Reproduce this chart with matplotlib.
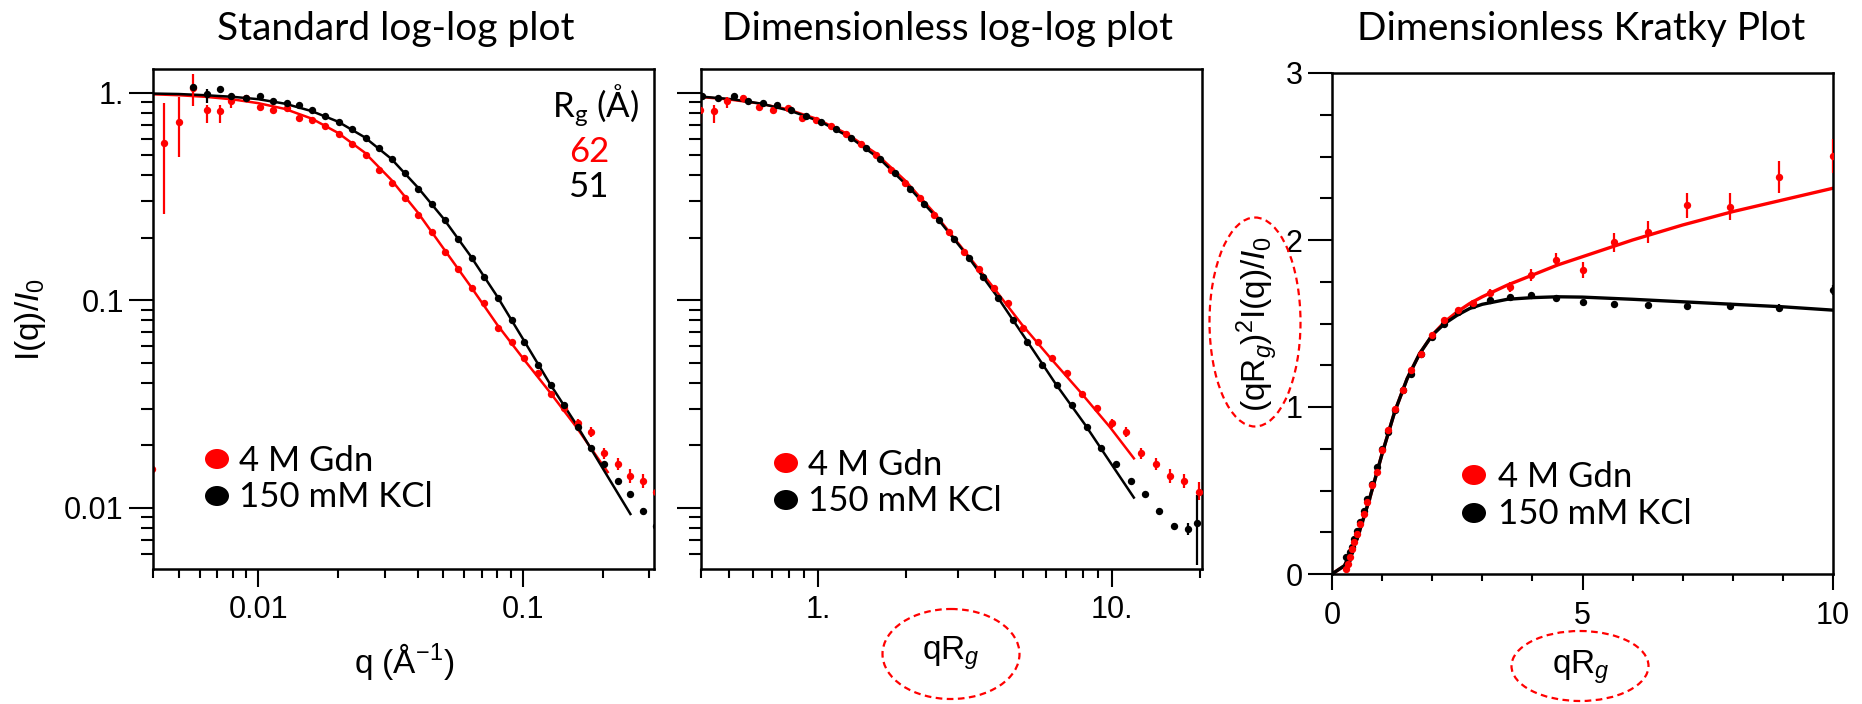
import matplotlib
matplotlib.use('Agg')
import matplotlib.pyplot as plt
from matplotlib.patches import Ellipse
from matplotlib.ticker import FixedLocator, FixedFormatter, NullFormatter, LogLocator
import numpy as np

plt.rcParams['font.family'] = ['Liberation Sans', 'DejaVu Sans']
plt.rcParams['mathtext.fontset'] = 'custom'
plt.rcParams['mathtext.rm'] = 'Liberation Sans'
plt.rcParams['mathtext.it'] = 'Liberation Sans:italic'

W, H = 1862, 704
RED = '#ff0000'
BLACK = '#000000'
TITLE_FONT = ['Lato', 'DejaVu Sans']

rg_gdn = 62
rg_kcl = 51

# 4 M Gdn: q (1/A), I(q)/I0, error bar down / up
q_gdn = [0.00442, 0.00503, 0.00565, 0.00638, 0.00715, 0.00788, 0.00896, 0.01015,
         0.01137, 0.01279, 0.01428, 0.01592, 0.0179, 0.02013, 0.02263, 0.02545,
         0.0285, 0.03193, 0.03591, 0.04022, 0.0452, 0.05064, 0.05695, 0.06403,
         0.07145, 0.08061, 0.09066, 0.1012, 0.1137, 0.1274, 0.1433, 0.1612,
         0.1804, 0.2029, 0.228, 0.2545, 0.2851, 0.319]
i_gdn = [0.573, 0.722, 1.05, 0.825, 0.82, 0.912, 0.94, 0.854,
         0.825, 0.846, 0.755, 0.736, 0.693, 0.634, 0.568, 0.501,
         0.425, 0.366, 0.312, 0.256, 0.212, 0.170, 0.141, 0.115,
         0.0969, 0.0735, 0.063, 0.0527, 0.0447, 0.0354, 0.0304, 0.0255,
         0.0232, 0.0183, 0.0162, 0.0142, 0.0134, 0.0119]
dn_gdn = [0.314, 0.232, 0.187, 0.108, 0.103, 0.071, 0.03, 0.02,
          0.02, 0.02, 0.015, 0.015, 0.012, 0.012, 0.01, 0.01,
          0.008, 0.007, 0.006, 0.005, 0.004, 0.003, 0.003, 0.002,
          0.002, 0.0015, 0.0013, 0.0011, 0.001, 0.0008, 0.0008, 0.0012,
          0.0012, 0.0011, 0.001, 0.001, 0.001, 0.001]
up_gdn = [0.316, 0.228, 0.176, 0.048, 0.053, 0.038, 0.03, 0.02,
          0.02, 0.02, 0.015, 0.015, 0.012, 0.012, 0.01, 0.01,
          0.008, 0.007, 0.006, 0.005, 0.004, 0.003, 0.003, 0.002,
          0.002, 0.0015, 0.0013, 0.0011, 0.001, 0.0008, 0.0008, 0.0012,
          0.0012, 0.0012, 0.0011, 0.0011, 0.0012, 0.0014]

# 150 mM KCl
q_kcl = [0.00565, 0.00638, 0.00715, 0.00788, 0.00896, 0.01015,
         0.01137, 0.01279, 0.01428, 0.01592, 0.0179, 0.02013, 0.02263, 0.02545,
         0.0285, 0.03193, 0.03591, 0.04022, 0.0452, 0.05064, 0.05695, 0.06403,
         0.07145, 0.08061, 0.09066, 0.1012, 0.1137, 0.1274, 0.1433, 0.1612,
         0.1804, 0.2029, 0.228, 0.2545, 0.2851, 0.319, 0.357, 0.383]
i_kcl = [1.06, 0.982, 1.04, 0.959, 0.944, 0.968,
         0.912, 0.889, 0.868, 0.825, 0.773, 0.722, 0.666, 0.603,
         0.540, 0.477, 0.411, 0.345, 0.290, 0.243, 0.197, 0.159,
         0.129, 0.102, 0.0801, 0.0628, 0.0490, 0.0391, 0.0313, 0.0244,
         0.0195, 0.0162, 0.0135, 0.0116, 0.00968, 0.00819, 0.00792, 0.0084]
dn_kcl = [0.03, 0.09, 0.03, 0.02, 0.02, 0.01,
          0.01, 0.01, 0.01, 0.01, 0.01, 0.01, 0.008, 0.008,
          0.006, 0.005, 0.004, 0.004, 0.003, 0.003, 0.002, 0.002,
          0.0015, 0.001, 0.001, 0.0008, 0.0006, 0.0005, 0.0004, 0.0003,
          0.0003, 0.0003, 0.0003, 0.0003, 0.0003, 0.0003, 0.0005, 0.0031]
up_kcl = [0.03, 0.06, 0.03, 0.02, 0.02, 0.01,
          0.01, 0.01, 0.01, 0.01, 0.01, 0.01, 0.008, 0.008,
          0.006, 0.005, 0.004, 0.004, 0.003, 0.003, 0.002, 0.002,
          0.0015, 0.001, 0.001, 0.0008, 0.0006, 0.0005, 0.0004, 0.0003,
          0.0003, 0.0003, 0.0003, 0.0003, 0.0003, 0.0003, 0.0005, 0.0031]

# stray point sitting on the left border of the first panel
q_stray = [0.00398]
i_stray = [0.0154]

# fitted curves
qfit_gdn = [0.004, 0.005, 0.0063, 0.008, 0.010, 0.0126, 0.0159, 0.020, 0.0252,
            0.0318, 0.040, 0.050, 0.063, 0.080, 0.100, 0.126, 0.159, 0.192, 0.209]
ifit_gdn = [0.982, 0.972, 0.955, 0.928, 0.89, 0.835, 0.75, 0.64, 0.515,
            0.38, 0.265, 0.178, 0.118, 0.076, 0.0525, 0.0362, 0.0245, 0.0173, 0.01486]
qfit_kcl = [0.004, 0.005, 0.0063, 0.008, 0.010, 0.0126, 0.0159, 0.020, 0.0252,
            0.0318, 0.040, 0.050, 0.063, 0.080, 0.100, 0.126, 0.159, 0.20, 0.2333, 0.2545]
ifit_kcl = [0.99, 0.985, 0.972, 0.955, 0.93, 0.885, 0.815, 0.725, 0.61,
            0.48, 0.35, 0.248, 0.165, 0.104, 0.065, 0.0398, 0.0252, 0.0155, 0.0112, 0.00933]
qrg_fit_end = 11.9

# dimensionless Kratky plot (binned on its own qRg grid)
kr_x = [0.282, 0.316, 0.355, 0.398, 0.447, 0.501, 0.562, 0.631, 0.708, 0.794, 0.891,
        1.0, 1.122, 1.259, 1.413, 1.585, 1.778, 1.995, 2.239, 2.512, 2.818,
        3.162, 3.548, 3.981, 4.467, 5.012, 5.623, 6.310, 7.079, 7.943, 8.913, 10.0]
kr_gdn = [0.03, 0.06, 0.10, 0.15, 0.19, 0.24, 0.30, 0.36, 0.43, 0.53, 0.61,
          0.74, 0.86, 0.99, 1.10, 1.22, 1.32, 1.43, 1.52, 1.58, 1.62,
          1.685, 1.72, 1.79, 1.88, 1.82, 1.986, 2.047, 2.208, 2.20, 2.377, 2.503]
kr_gdn_err = [0.01, 0.01, 0.01, 0.01, 0.01, 0.01, 0.01, 0.01, 0.01, 0.01, 0.01,
              0.01, 0.01, 0.01, 0.01, 0.01, 0.01, 0.01, 0.01, 0.015, 0.02,
              0.02, 0.03, 0.036, 0.04, 0.047, 0.056, 0.067, 0.074, 0.08, 0.094, 0.1]
kr_kcl = [0.10, 0.09, 0.13, 0.16, 0.21, 0.26, 0.31, 0.38, 0.45, 0.54, 0.64,
          0.75, 0.85, 0.98, 1.10, 1.20, 1.32, 1.42, 1.50, 1.57, 1.61,
          1.64, 1.66, 1.67, 1.653, 1.63, 1.618, 1.61, 1.605, 1.605, 1.59, 1.699]
kr_kcl_err = [0.01] * 21 + [0.01, 0.01, 0.01, 0.01, 0.01, 0.012, 0.014, 0.016, 0.02, 0.024, 0.03]

krfit_x = [0, 0.25, 0.5, 0.75, 1.0, 1.25, 1.5, 1.75, 2.0, 2.25, 2.5, 2.75, 3.0,
           3.5, 4.0, 4.5, 5.0, 6.0, 7.0, 8.0, 9.0, 10.0]
krfit_gdn = [0, 0.05, 0.21, 0.45, 0.72, 0.97, 1.17, 1.32, 1.43, 1.51, 1.57, 1.62, 1.66,
             1.73, 1.79, 1.85, 1.90, 2.00, 2.09, 2.17, 2.24, 2.31]
krfit_kcl = [0, 0.05, 0.21, 0.45, 0.72, 0.97, 1.17, 1.32, 1.43, 1.50, 1.55, 1.59, 1.615,
             1.645, 1.655, 1.66, 1.658, 1.645, 1.63, 1.615, 1.60, 1.58]


def px_axes(l, t, r, b):
    return fig.add_axes([l / W, 1 - b / H, (r - l) / W, (b - t) / H])


def style_axes(ax, ymaj, yminor, xmaj, xminor):
    for s in ax.spines.values():
        s.set_linewidth(1.8)
    ax.tick_params(which='both', direction='out', width=1.5, top=False, right=False,
                   labelsize=22, colors='black')
    ax.tick_params(axis='y', which='major', length=ymaj, pad=4)
    ax.tick_params(axis='y', which='minor', length=yminor)
    ax.tick_params(axis='x', which='major', length=xmaj, pad=6)
    ax.tick_params(axis='x', which='minor', length=xminor)


fig = plt.figure(figsize=(W / 100, H / 100), dpi=100)

ms = 5.3
ekw = dict(fmt='o', ms=ms, mew=0, elinewidth=1.6, capsize=0, zorder=3)

# ---- panel 1: standard log-log
ax1 = px_axes(153, 69, 654, 569)
ax1.plot(qfit_gdn, ifit_gdn, color=RED, lw=1.8, zorder=2)
ax1.plot(qfit_kcl, ifit_kcl, color=BLACK, lw=1.8, zorder=2)
ax1.errorbar(q_gdn, i_gdn, yerr=[dn_gdn, up_gdn], color=RED, **ekw)
ax1.errorbar(q_kcl, i_kcl, yerr=[dn_kcl, up_kcl], color=BLACK, **ekw)
ax1.plot(q_stray, i_stray, 'o', color=RED, ms=ms, mew=0)
ax1.set_xscale('log')
ax1.set_yscale('log')
ax1.set_xlim(0.004, 0.3125)
ax1.set_ylim(0.00507, 1.30)
ax1.xaxis.set_major_locator(FixedLocator([0.01, 0.1]))
ax1.xaxis.set_major_formatter(FixedFormatter(['0.01', '0.1']))
ax1.yaxis.set_major_locator(FixedLocator([0.01, 0.1, 1]))
ax1.yaxis.set_major_formatter(FixedFormatter(['0.01', '0.1', '1.']))
for axis in (ax1.xaxis, ax1.yaxis):
    axis.set_minor_locator(LogLocator(base=10, subs=np.arange(2, 10), numticks=20))
    axis.set_minor_formatter(NullFormatter())
style_axes(ax1, 17, 9, 13, 6.5)

# ---- panel 2: dimensionless log-log
ax2 = px_axes(701, 69, 1202, 569)
for qf, fi, rg, c in ((qfit_gdn, ifit_gdn, rg_gdn, RED), (qfit_kcl, ifit_kcl, rg_kcl, BLACK)):
    xs = np.array(qf) * rg
    keep = xs <= qrg_fit_end + 0.05
    ax2.plot(xs[keep], np.array(fi)[keep], color=c, lw=1.8, zorder=2)
ax2.errorbar(np.array(q_gdn) * rg_gdn, i_gdn, yerr=[dn_gdn, up_gdn], color=RED, **ekw)
ax2.errorbar(np.array(q_kcl) * rg_kcl, i_kcl, yerr=[dn_kcl, up_kcl], color=BLACK, **ekw)
ax2.set_xscale('log')
ax2.set_yscale('log')
ax2.set_xlim(0.4, 20.3)
ax2.set_ylim(0.00507, 1.30)
ax2.xaxis.set_major_locator(FixedLocator([1, 10]))
ax2.xaxis.set_major_formatter(FixedFormatter(['1.', '10.']))
ax2.yaxis.set_major_locator(FixedLocator([0.01, 0.1, 1]))
ax2.yaxis.set_major_formatter(NullFormatter())
for axis in (ax2.xaxis, ax2.yaxis):
    axis.set_minor_locator(LogLocator(base=10, subs=np.arange(2, 10), numticks=20))
    axis.set_minor_formatter(NullFormatter())
style_axes(ax2, 17, 9, 13, 6.5)

# ---- panel 3: dimensionless Kratky
ax3 = px_axes(1332, 73, 1833, 574)
ax3.plot(krfit_x, krfit_gdn, color=RED, lw=2.4, zorder=2)
ax3.plot(krfit_x, krfit_kcl, color=BLACK, lw=2.4, zorder=2)
ax3.errorbar(kr_x, kr_kcl, yerr=kr_kcl_err, color=BLACK, **ekw)
ax3.errorbar(kr_x, kr_gdn, yerr=kr_gdn_err, color=RED, **ekw)
ax3.set_xlim(0, 10)
ax3.set_ylim(0, 3)
ax3.xaxis.set_major_locator(FixedLocator([0, 5, 10]))
ax3.xaxis.set_minor_locator(FixedLocator(np.arange(0, 11, 1)))
ax3.yaxis.set_major_locator(FixedLocator([0, 1, 2, 3]))
ax3.yaxis.set_minor_locator(FixedLocator(np.arange(0, 3.01, 0.25)))
ax3.xaxis.set_major_formatter(FixedFormatter(['0', '5', '10']))
ax3.yaxis.set_major_formatter(FixedFormatter(['0', '1', '2', '3']))
style_axes(ax3, 17, 9, 11.5, 5)
ax3.tick_params(axis='x', which='major', pad=8)

# ---- overlay for titles, labels, legends and the dashed ellipses
ov = fig.add_axes([0, 0, 1, 1], zorder=10)
ov.set_xlim(0, W)
ov.set_ylim(H, 0)
ov.axis('off')

for x, t in ((396, 'Standard log-log plot'), (947, 'Dimensionless log-log plot'),
             (1581, 'Dimensionless Kratky Plot')):
    ov.text(x, 40, t, ha='center', va='baseline', fontsize=28, family=TITLE_FONT)

ov.text(30, 320, r'I(q)/$\mathit{I}_{\mathregular{0}}$', rotation=90, ha='center', va='center',
        fontsize=24)
ov.text(404, 662, r'q (Å$^{\mathregular{-1}}$)', ha='center', va='center', fontsize=24)
ov.text(951, 653, r'qR$_{\mathit{g}}$', ha='center', va='center', fontsize=24)
ov.text(1581, 667, r'qR$_{\mathit{g}}$', ha='center', va='center', fontsize=24)
ov.text(1258, 324, r'(qR$_{\mathit{g}}$)$^{\mathregular{2}}$I(q)/$\mathit{I}_{\mathregular{0}}$',
        rotation=90, ha='center', va='center', fontsize=24)

ell_kw = dict(fill=False, edgecolor=RED, lw=1.6, ls=(0, (3, 2)))
ov.add_patch(Ellipse((951, 654), 137, 90, **ell_kw))
ov.add_patch(Ellipse((1580, 666), 137, 70, **ell_kw))
ov.add_patch(Ellipse((1255, 322), 91, 209, **ell_kw))

# R_g values
ov.text(639, 117, r'R$_{\mathregular{g}}$ (Å)', ha='right', va='baseline', fontsize=25,
        family=TITLE_FONT)
ov.text(609, 162, '62', ha='right', va='baseline', fontsize=25, color=RED, family=TITLE_FONT)
ov.text(609, 197, '51', ha='right', va='baseline', fontsize=25, color=BLACK, family=TITLE_FONT)

# legends
for mx, tx, y1, y2 in ((217, 239, 471, 507), (786, 808, 475, 511), (1474, 1498, 487, 524)):
    ov.add_patch(Ellipse((mx, y1 - 12), 24, 20, color=RED, lw=0))
    ov.add_patch(Ellipse((mx, y2 - 11), 24, 20, color=BLACK, lw=0))
    ov.text(tx, y1, '4 M Gdn', ha='left', va='baseline', fontsize=25, family=TITLE_FONT)
    ov.text(tx, y2, '150 mM KCl', ha='left', va='baseline', fontsize=25, family=TITLE_FONT)

fig.savefig('out.png', dpi=100)
